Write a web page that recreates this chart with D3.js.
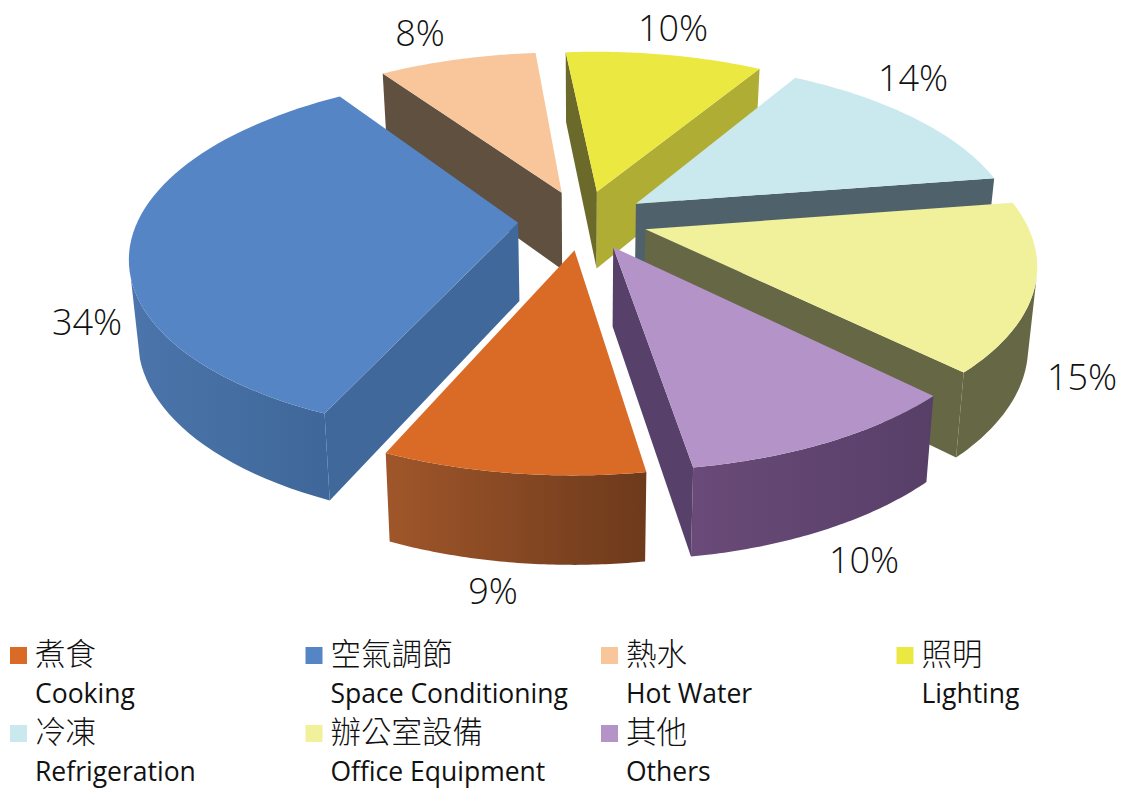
<!DOCTYPE HTML>
<html>
<head>
<meta charset="utf-8">
<title>Energy use by category</title>
<script src="https://d3js.org/d3.v7.min.js"></script>
<style>
    body { margin: 0; background: #fff; }
    text { fill: #111; }
</style>
</head>
<body>
<svg id="chart" width="1122" height="789"><defs></defs></svg>
<script>
    // data, in legend order (clockwise round the pie)
    const categoriesEn = ["Cooking", "Space Conditioning", "Hot Water", "Lighting", "Refrigeration", "Office Equipment", "Others"];
    const categoriesZh = ["煮食", "空氣調節", "熱水", "照明", "冷凍", "辦公室設備", "其他"];
    const shares = [9, 34, 8, 10, 14, 15, 10];

    // styles, same order
    const topColors = ["#d96b27", "#5585c5", "#f8c69a", "#ece842", "#cae9ef", "#f1f09b", "#b494c8"];
    const startFaceColors = ["#7a4020", "#41689b", "#5f5040", "#6b6a2a", "#4f626c", "#666845", "#5b4168"];
    const endFaceColors = ["#7a4020", "#41689b", "#5f5040", "#b0ad35", "#4f626c", "#666845", "#57406a"];
    const rimFrom = ["#6d3a1c", "#3f6799", "#5f5040", "#b0ad35", "#4f626c", "#666845", "#573f68"];
    const rimTo = ["#a0562a", "#4b75ab", "#5f5040", "#b0ad35", "#4f626c", "#666845", "#6a4a78"];

    // label centres, same order
    const labelX = [493, 87, 420, 673, 913, 1082, 864];
    const labelY = [591, 322, 33, 28, 78, 377, 560];

    // back to front
    const paintOrder = [2, 3, 4, 5, 1, 6, 0];

    const CX = 583, CY = 220, RADIUS = 380, TILT = 0.457, PERSP = 0.175;
    const EXPLODE = 0.171, DEPTH = 78, START_DEG = 171.1;
    const deg = Math.PI / 180;

    const svg = d3.select("#chart");
    const defs = svg.select("defs");

    function project(u, v, z) {
        const sc = 1 / (1 + PERSP * v);
        const x = RADIUS * u * sc * (1 - 0.02 * z);
        return [CX + x, CY - RADIUS * TILT * v * sc + z * DEPTH * Math.pow(sc, 0.6)];
    }

    function signedArea(pts) {
        let s = 0;
        pts.forEach((p, i) => {
            const q = pts[(i + 1) % pts.length];
            s += p[0] * q[1] - q[0] * p[1];
        });
        return s;
    }

    const pieData = d3.pie().sort(null)
        .startAngle(START_DEG * deg)
        .endAngle((START_DEG + 360) * deg)(shares);

    const line = d3.line();

    function drawSlice(d, i) {
        const g = svg.append("g");
        const mid = (d.startAngle + d.endAngle) / 2;
        const ou = EXPLODE * Math.sin(mid), ov = EXPLODE * Math.cos(mid);
        const at = (a, r, z) => project(ou + r * Math.sin(a), ov + r * Math.cos(a), z);

        const steps = d3.range(0, 61).map(k => d.startAngle + (d.endAngle - d.startAngle) * k / 60);

        // outer wall, only the angles that face us, filled with one gradient
        const visible = steps.filter((a, k) => {
            const a1 = k < 60 ? steps[k + 1] : a, a0 = k < 60 ? a : steps[k - 1];
            return signedArea([at(a0, 1, 0), at(a1, 1, 0), at(a1, 1, 1), at(a0, 1, 1)]) < 0;
        });
        if (visible.length > 1) {
            const gradId = "rim" + i;
            const x0 = at(visible[0], 1, 0)[0], x1 = at(visible[visible.length - 1], 1, 0)[0];
            const grad = defs.append("linearGradient").attr("id", gradId)
                .attr("gradientUnits", "userSpaceOnUse")
                .attr("x1", x0).attr("x2", x1).attr("y1", 0).attr("y2", 0);
            grad.append("stop").attr("offset", 0).attr("stop-color", rimFrom[i]);
            grad.append("stop").attr("offset", 1).attr("stop-color", rimTo[i]);
            const outline = visible.map(a => at(a, 1, 0)).concat(visible.slice().reverse().map(a => at(a, 1, 1)));
            g.append("path").attr("d", line(outline) + "Z").attr("fill", `url(#${gradId})`);
        }

        // the two cut faces
        const apex = [at(0, 0, 0), at(0, 0, 1)];
        const faces = [
            { quad: [apex[0], at(d.startAngle, 1, 0), at(d.startAngle, 1, 1), apex[1]], color: startFaceColors[i] },
            { quad: [at(d.endAngle, 1, 0), apex[0], apex[1], at(d.endAngle, 1, 1)], color: endFaceColors[i] }
        ];
        faces.forEach(f => {
            if (signedArea(f.quad) < 0) {
                g.append("path").attr("d", line(f.quad) + "Z").attr("fill", f.color);
            }
        });

        // top
        const top = [apex[0]].concat(steps.map(a => at(a, 1, 0)));
        g.append("path").attr("d", line(top) + "Z").attr("fill", topColors[i]);
    }

    paintOrder.forEach(i => drawSlice(pieData[i], i));

    // value labels
    svg.selectAll(".pct").data(shares).enter().append("text")
        .attr("class", "pct")
        .attr("x", (d, i) => labelX[i])
        .attr("y", (d, i) => labelY[i])
        .attr("dy", "0.36em")
        .attr("text-anchor", "middle")
        .style("font-family", "'Open Sans'")
        .style("font-weight", 300)
        .style("font-size", "36px")
        .text(d => d + "%");

    // legend
    const legendX = d3.scaleBand().domain(d3.range(4)).range([10, 1192]);
    const legendY = d3.scaleBand().domain(d3.range(2)).range([647, 803]);
    categoriesEn.forEach((name, i) => {
        const x = legendX(i % 4), y = legendY(Math.floor(i / 4));
        const g = svg.append("g").attr("transform", `translate(${x},${y})`);
        g.append("rect").attr("width", 17).attr("height", 17).attr("fill", topColors[i]);
        g.append("text").attr("x", 25).attr("y", 18)
            .style("font-family", "'Noto Sans CJK TC'").style("font-weight", 300).style("font-size", "30.5px")
            .text(categoriesZh[i]);
        g.append("text").attr("x", 25).attr("y", 56)
            .style("font-family", "'Open Sans'").style("font-size", "26.5px")
            .text(name);
    });
</script>
</body>
</html>
